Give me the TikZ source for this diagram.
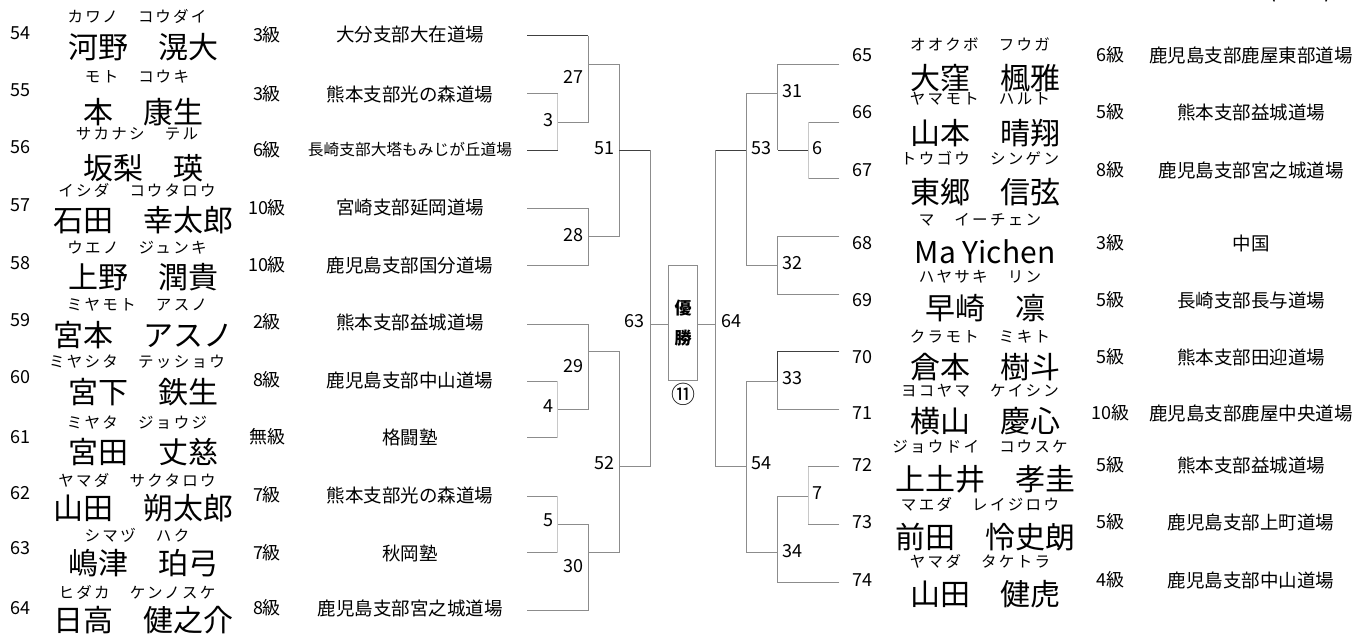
\documentclass[tikz,border=0pt]{standalone}
\usepackage{fontspec}
\setmainfont{Noto Sans CJK JP}
\usetikzlibrary{positioning}

\definecolor{bgray}{HTML}{8C8C8C}
\definecolor{bdark}{HTML}{404040}
\definecolor{blight}{HTML}{C8C8C8}

\tikzset{
    entry/.style={inner sep=0pt, font=\fontsize{18}{18}\selectfont},
    kana/.style={inner sep=0pt,
        font=\fontsize{15.5}{15.5}\selectfont\addfontfeatures{LetterSpace=15}},
    fullname/.style={inner sep=0pt, font=\fontsize{30}{30}\selectfont},
    kyu/.style={inner sep=0pt, font=\fontsize{18}{18}\selectfont},
    matchno/.style={inner sep=0pt, font=\fontsize{18}{18}\selectfont},
    bline/.style={draw=bgray, line width=1pt},
    bthick/.style={draw=bdark, line width=1pt},
    bthin/.style={draw=blight, line width=1pt},
}

\begin{document}
\begin{tikzpicture}
    [x=1pt, y=-1pt,
%     thick,
    ]
    \useasboundingbox (0,0) rectangle (1359,637);

    % Heading (cut off at the top edge)
    \node[anchor=base east, inner sep=0pt, font=\fontsize{24}{24}\selectfont]
        (title) at (1333, -2.5) {一般3級以上(男子)};

    % Left half: entries 54 - 64
    \foreach \sid / \sy / \fy / \py / \gy / \furi / \pname / \grade / \club / \csize in
             {54/33/16/47/35/カワノ　コウダイ/河野　滉大/3級/大分支部大在道場/18.5,
              55/90/77/112/94/モト　コウキ/本　康生/3級/熊本支部光の森道場/18.5,
              56/147/134/168/150/サカナシ　テル/坂梨　瑛/6級/長崎支部大塔もみじが丘道場/15.7,
              57/205/190/220/208/イシダ　コウタロウ/石田　幸太郎/10級/宮崎支部延岡道場/18.5,
              58/263/248/277/265/ウエノ　ジュンキ/上野　潤貴/10級/鹿児島支部国分道場/18.5,
              59/320/305/335/322/ミヤモト　アスノ/宮本　アスノ/2級/熊本支部益城道場/18.5,
              60/377/362/392/380/ミヤシタ　テッショウ/宮下　鉄生/8級/鹿児島支部中山道場/18.5,
              61/437/423/452/437/ミヤタ　ジョウジ/宮田　丈慈/無級/格闘塾/18.5,
              62/493/480/508/495/ヤマダ　サクタロウ/山田　朔太郎/7級/熊本支部光の森道場/18.5,
              63/548/535/563/553/シマヅ　ハク/嶋津　珀弓/7級/秋岡塾/18.5,
              64/608/592/620/608/ヒダカ　ケンノスケ/日高　健之介/8級/鹿児島支部宮之城道場/18.5} {
        \node[entry] (n\sid) at (20, \sy) {\sid};
        \node[kana] (f\sid) at (137, \fy) {\furi};
        \node[fullname] (p\sid) at (143, \py) {\pname};
        \node[kyu] (g\sid) at (267, \gy) {\grade};
        \node[inner sep=0pt, font=\fontsize{\csize}{\csize}\selectfont]
            (c\sid) at (410, \gy) {\club};
    }

    % Right half: entries 65 - 74
    \foreach \sid / \sy / \fy / \py / \furi / \pname / \grade / \club in
             {65/55/44/78/オオクボ　フウガ/大窪　楓雅/6級/鹿児島支部鹿屋東部道場,
              66/112/99/133/ヤマモト　ハルト/山本　晴翔/5級/熊本支部益城道場,
              67/170/158/192/トウゴウ　シンゲン/東郷　信弦/8級/鹿児島支部宮之城道場,
              68/243/220/252/マ　イーチェン/Ma Yichen/3級/中国,
              69/300/277/308/ハヤサキ　リン/早崎　凛/5級/長崎支部長与道場,
              70/357/337/367/クラモト　ミキト/倉本　樹斗/5級/熊本支部田迎道場,
              71/413/391/421/ヨコヤマ　ケイシン/横山　慶心/10級/鹿児島支部鹿屋中央道場,
              72/465/447/479/ジョウドイ　コウスケ/上土井　孝圭/5級/熊本支部益城道場,
              73/522/504/537/マエダ　レイジロウ/前田　怜史朗/5級/鹿児島支部上町道場,
              74/580/561/594/ヤマダ　タケトラ/山田　健虎/4級/鹿児島支部中山道場} {
        \node[entry] (n\sid) at (862, \sy) {\sid};
        \node[kana] (f\sid) at (980, \fy) {\furi};
        \node[fullname] (p\sid) at (985, \py) {\pname};
        \node[kyu] (g\sid) at (1110, \sy) {\grade};
        \node[inner sep=0pt, font=\fontsize{18.5}{18.5}\selectfont]
            (c\sid) at (1251, \sy) {\club};
    }

    % Row ends of the bracket
    \foreach \sid / \ly in {54/35.8, 55/93.5, 56/150.4, 57/208.5, 58/265.4, 59/324,
                            60/381, 61/437.8, 62/496, 63/552.8, 64/610}
        \coordinate (L\sid) at (527, \ly);
    \foreach \sid / \ly in {65/64.2, 66/122, 67/178.9, 68/236.6, 69/294.7,
                            70/351.6, 71/409.3, 72/466.7, 73/524.4, 74/582}
        \coordinate (R\sid) at (839.3, \ly);

    % Match points
    \coordinate (m3) at (557.7, 122);
    \coordinate (m4) at (557.7, 409.3);
    \coordinate (m5) at (557.7, 524.4);
    \coordinate (m27) at (588, 64.2);
    \coordinate (m28) at (588, 236.6);
    \coordinate (m29) at (588, 351.6);
    \coordinate (m30) at (588, 552.8);
    \coordinate (m51) at (619.3, 150.4);
    \coordinate (m52) at (619.3, 466.7);
    \coordinate (m63) at (650, 324);
    \coordinate (m64) at (715.7, 324);
    \coordinate (m53) at (746.7, 150.4);
    \coordinate (m54) at (746.7, 466.7);
    \coordinate (m31) at (777.7, 93.5);
    \coordinate (m32) at (777.7, 265.4);
    \coordinate (m33) at (777.7, 381);
    \coordinate (m34) at (777.7, 552.8);
    \coordinate (m6) at (808.3, 150.4);
    \coordinate (m7) at (808.3, 496);

    % Final box
    \node[draw=bgray, line width=1pt, minimum width=29.4pt, minimum height=115.5pt,
          inner sep=0pt, align=center, font=\bfseries\fontsize{17}{30.5}\selectfont]
        (win) at (683, 323.2) {優\\勝};
    \node[inner sep=0pt, font=\fontsize{24}{24}\selectfont, below=2pt of win] (round) {⑪};

    % Left bracket
    \draw[bthick] (L54) -- (L54 -| m27);
    \draw[bline] (L54 -| m27) -- (m3 -| m27) -- (m3);
    \draw[bline] (L55) -- (L55 -| m3);
    \draw[bthick] (L56) -- (L56 -| m3);
    \draw[bthin] (L55 -| m3) -- (L56 -| m3);
    \draw[bline] (m27) -- (m27 -| m51) -- (m28 -| m51) -- (m28);
    \draw[bline] (L57) -| (m28);
    \draw[bline] (L58) -| (m28);
    \draw[bthick] (m51) -- (m51 -| m63);
    \draw[bline] (m51 -| m63) -- (m52 -| m63) -- (m52);
    \draw[bline] (m63) -- (m63 -| win.west);
    \draw[bline] (L59) -| (m29);
    \draw[bline] (m4) -| (m29);
    \draw[bline] (L60) -- (L60 -| m4);
    \draw[bline] (L61) -- (L61 -| m4);
    \draw[bthin] (L60 -| m4) -- (L61 -| m4);
    \draw[bline] (m29) -| (m52);
    \draw[bline] (m30) -| (m52);
    \draw[bline] (L62) -- (L62 -| m5);
    \draw[bline] (L63) -- (L63 -| m5);
    \draw[bthin] (L62 -| m5) -- (L63 -| m5);
    \draw[bline] (m5) -| (m30);
    \draw[bline] (L64) -| (m30);

    % Right bracket
    \draw[bline] (m64 -| win.east) -- (m64);
    \draw[bthick] (m53) -- (m53 -| m64);
    \draw[bline] (m53 -| m64) -- (m54 -| m64) -- (m54);
    \draw[bline] (m31) -| (m53);
    \draw[bline] (m32) -| (m53);
    \draw[bline] (R65) -| (m31);
    \draw[bline] (m31) -- (m6 -| m31);
    \draw[bthick] (m6) -- (m6 -| m31);
    \draw[bline] (R66) -- (R66 -| m6);
    \draw[bline] (R67) -- (R67 -| m6);
    \draw[bthin] (R66 -| m6) -- (R67 -| m6);
    \draw[bline] (R68) -| (m32);
    \draw[bline] (R69) -| (m32);
    \draw[bline] (m33) -| (m54);
    \draw[bline] (m34) -| (m54);
    \draw[bthick] (R70) -| (m33);
    \draw[bline] (R71) -| (m33);
    \draw[bline] (m7) -| (m34);
    \draw[bline] (R74) -| (m34);
    \draw[bline] (R72) -- (R72 -| m7);
    \draw[bline] (R73) -- (R73 -| m7);
    \draw[bthin] (R72 -| m7) -- (R73 -| m7);

    % Match numbers
    \foreach \mid / \mx / \my in {3/548/120, 4/548/406.5, 5/548/520,
                                  27/573/77, 28/573/235, 29/573/366, 30/573/566,
                                  51/604/148, 52/604/463, 63/634/321,
                                  64/731/321, 53/761.5/148, 54/761.5/463,
                                  31/792/91.5, 32/792/263, 33/792/378, 34/792/551,
                                  6/817.5/148, 7/817.5/493}
        \node[matchno] (t\mid) at (\mx, \my) {\mid};
\end{tikzpicture}
\end{document}
